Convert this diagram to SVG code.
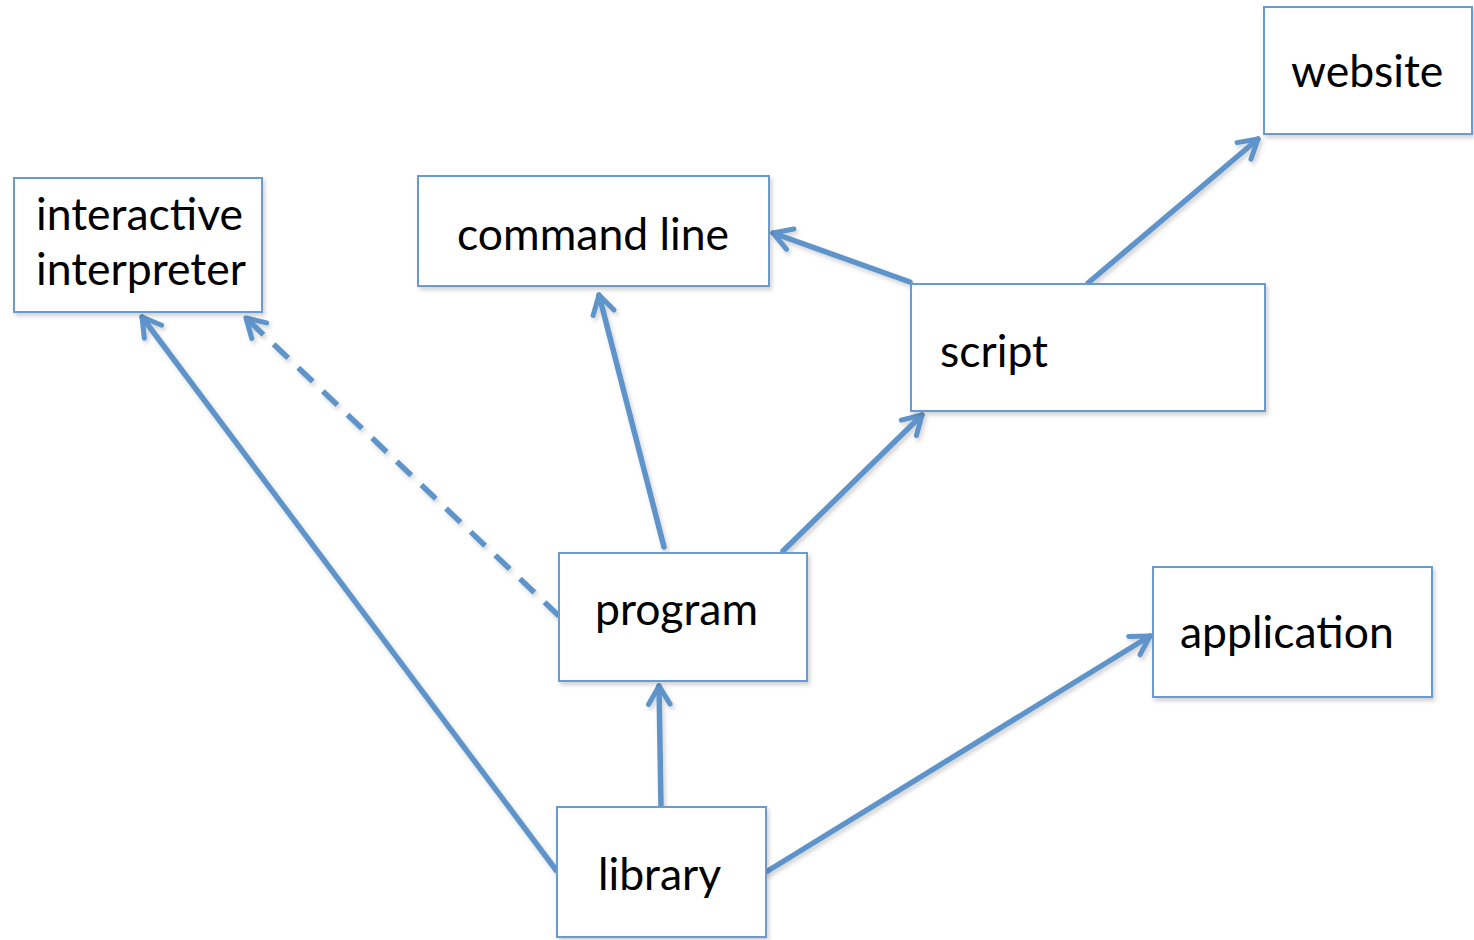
<svg xmlns="http://www.w3.org/2000/svg" width="1474" height="940" viewBox="0 0 1474 940">
  <style>
    .box { fill: #ffffff; stroke: #6b9bd0; stroke-width: 2; }
    .label { font-family: Lato, "Open Sans", "Liberation Sans", sans-serif; font-size: 44.5px; fill: #000000; }
    .edge { fill: none; stroke: #5e94cb; stroke-width: 5.5; stroke-linecap: round; }
    .dashed { stroke-dasharray: 20 14; stroke-linecap: butt; }
  </style>
  <defs>
    <filter id="shadow" x="-10%" y="-10%" width="130%" height="130%">
      <feDropShadow dx="2" dy="3" stdDeviation="2" flood-color="#000000" flood-opacity="0.18"/>
    </filter>
    <marker id="head" viewBox="0 0 12 12" refX="10" refY="6" markerWidth="5" markerHeight="5" markerUnits="strokeWidth" orient="auto">
      <path d="M2,1.3 L10,6 L2,10.7" fill="none" stroke="#5e94cb" stroke-width="2.2" stroke-linecap="round" stroke-linejoin="round"/>
    </marker>
  </defs>

  <g id="connectors" filter="url(#shadow)">
    <line class="edge" x1="556" y1="870" x2="142" y2="317" marker-end="url(#head)"/>
    <line class="edge dashed" x1="559" y1="616" x2="246" y2="318" marker-end="url(#head)"/>
    <line class="edge" x1="664" y1="547" x2="599" y2="295" marker-end="url(#head)"/>
    <line class="edge" x1="783" y1="551" x2="922" y2="415" marker-end="url(#head)"/>
    <line class="edge" x1="910" y1="282" x2="773" y2="233" marker-end="url(#head)"/>
    <line class="edge" x1="1088" y1="283" x2="1258" y2="139" marker-end="url(#head)"/>
    <line class="edge" x1="661" y1="806" x2="659" y2="686" marker-end="url(#head)"/>
    <line class="edge" x1="766" y1="872" x2="1150" y2="636" marker-end="url(#head)"/>
  </g>

  <g id="interactive-interpreter">
    <rect class="box" x="14" y="178" width="248" height="134" filter="url(#shadow)"/>
    <text class="label" x="36" y="230">interactive</text>
    <text class="label" x="36" y="285">interpreter</text>
  </g>

  <g id="command-line">
    <rect class="box" x="418" y="176" width="351" height="110" filter="url(#shadow)"/>
    <text class="label" x="457" y="250">command line</text>
  </g>

  <g id="website">
    <rect class="box" x="1264" y="7" width="208" height="127" filter="url(#shadow)"/>
    <text class="label" x="1291" y="87">website</text>
  </g>

  <g id="script">
    <rect class="box" x="911" y="284" width="354" height="127" filter="url(#shadow)"/>
    <text class="label" x="940" y="367">script</text>
  </g>

  <g id="program">
    <rect class="box" x="559" y="553" width="248" height="128" filter="url(#shadow)"/>
    <text class="label" x="595" y="625">program</text>
  </g>

  <g id="application">
    <rect class="box" x="1153" y="567" width="279" height="130" filter="url(#shadow)"/>
    <text class="label" x="1180" y="648">application</text>
  </g>

  <g id="library">
    <rect class="box" x="557" y="807" width="209" height="130" filter="url(#shadow)"/>
    <text class="label" x="598" y="890">library</text>
  </g>
</svg>
